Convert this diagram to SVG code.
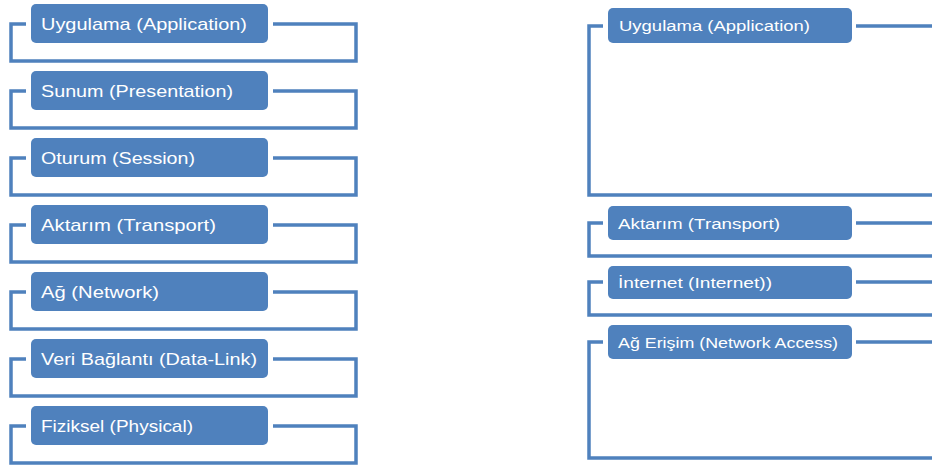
<svg xmlns="http://www.w3.org/2000/svg" width="932" height="468" viewBox="0 0 932 468">
<style>
.box{fill:#4f81bd}
.frame{fill:none;stroke:#4f81bd;stroke-width:3.5}
.tl{fill:#fff;font-family:"Liberation Sans",Arial,sans-serif;font-size:17px}
.tr{fill:#fff;font-family:"Liberation Sans",Arial,sans-serif;font-size:15.5px}
</style>
<rect width="932" height="468" fill="#fff"/>
<g id="connectors">
<path class="frame" d="M26,24H11V61H356V24H273"/>
<path class="frame" d="M26,91H11V128H356V91H273"/>
<path class="frame" d="M26,158H11V195H356V158H273"/>
<path class="frame" d="M26,225H11V262H356V225H273"/>
<path class="frame" d="M26,292H11V329H356V292H273"/>
<path class="frame" d="M26,359H11V396H356V359H273"/>
<path class="frame" d="M26,426H11V463H356V426H273"/>
<path class="frame" d="M603,26H589V195H934M856,26H934"/>
<path class="frame" d="M603,223H589V256H934M856,223H934"/>
<path class="frame" d="M603,282H589V315H934M856,282H934"/>
<path class="frame" d="M603,342H589V458H934M856,342H934"/>
</g>
<g id="osi-application"><rect class="box" x="31" y="4" width="237" height="39" rx="5"/><text class="tl" x="41" y="30" textLength="206" lengthAdjust="spacingAndGlyphs">Uygulama (Application)</text></g>
<g id="osi-presentation"><rect class="box" x="31" y="71" width="237" height="39" rx="5"/><text class="tl" x="41" y="97" textLength="192" lengthAdjust="spacingAndGlyphs">Sunum (Presentation)</text></g>
<g id="osi-session"><rect class="box" x="31" y="138" width="237" height="39" rx="5"/><text class="tl" x="41" y="164" textLength="154" lengthAdjust="spacingAndGlyphs">Oturum (Session)</text></g>
<g id="osi-transport"><rect class="box" x="31" y="205" width="237" height="39" rx="5"/><text class="tl" x="41" y="231" textLength="175" lengthAdjust="spacingAndGlyphs">Aktarım (Transport)</text></g>
<g id="osi-network"><rect class="box" x="31" y="272" width="237" height="39" rx="5"/><text class="tl" x="41" y="298" textLength="118" lengthAdjust="spacingAndGlyphs">Ağ (Network)</text></g>
<g id="osi-datalink"><rect class="box" x="31" y="339" width="237" height="39" rx="5"/><text class="tl" x="41" y="365" textLength="216" lengthAdjust="spacingAndGlyphs">Veri Bağlantı (Data-Link)</text></g>
<g id="osi-physical"><rect class="box" x="31" y="406" width="237" height="39" rx="5"/><text class="tl" x="41" y="432" textLength="152" lengthAdjust="spacingAndGlyphs">Fiziksel (Physical)</text></g>
<g id="tcp-application"><rect class="box" x="608" y="8" width="244" height="35" rx="5"/><text class="tr" x="619" y="31" textLength="191" lengthAdjust="spacingAndGlyphs">Uygulama (Application)</text></g>
<g id="tcp-transport"><rect class="box" x="608" y="206" width="244" height="34" rx="5"/><text class="tr" x="618" y="229" textLength="162" lengthAdjust="spacingAndGlyphs">Aktarım (Transport)</text></g>
<g id="tcp-internet"><rect class="box" x="608" y="266" width="244" height="33" rx="5"/><text class="tr" x="618" y="288" textLength="154" lengthAdjust="spacingAndGlyphs">İnternet (Internet))</text></g>
<g id="tcp-network-access"><rect class="box" x="608" y="325" width="244" height="34" rx="5"/><text class="tr" x="618" y="348" textLength="220" lengthAdjust="spacingAndGlyphs">Ağ Erişim (Network Access)</text></g>
</svg>
